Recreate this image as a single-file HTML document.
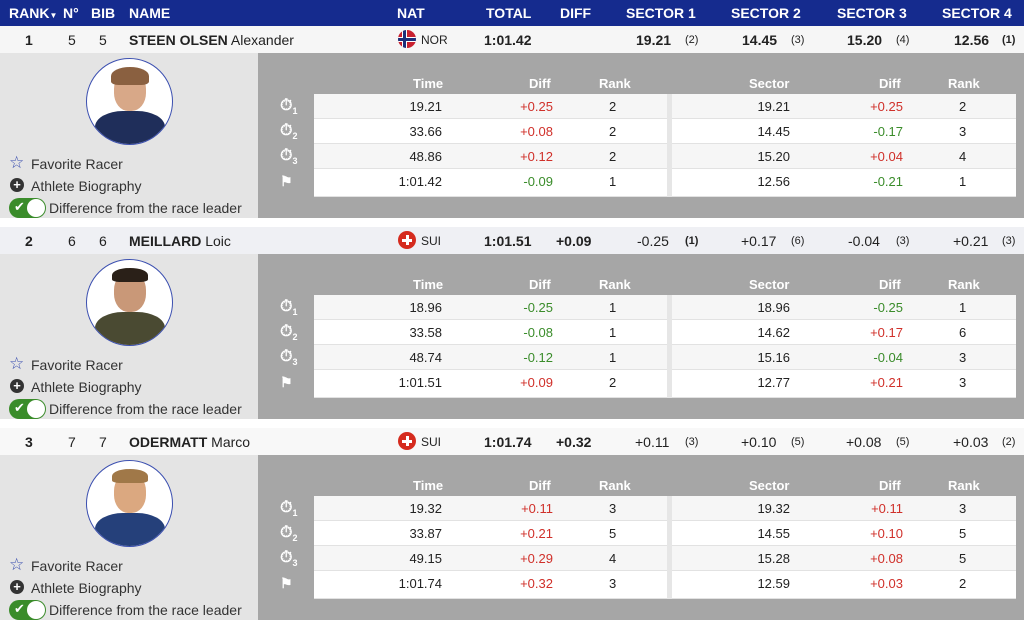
<!DOCTYPE html>
<html><head><meta charset="utf-8"><style>
*{margin:0;padding:0;box-sizing:border-box}
body{width:1024px;height:621px;overflow:hidden;background:#fff;font-family:"Liberation Sans",Arial,sans-serif;color:#222;position:relative}
.a{position:absolute;white-space:nowrap}
.hdr{position:absolute;left:0;top:0;width:1024px;height:26px;background:#152b8e;color:#fff;font-weight:bold;font-size:14px}
.hdr span{position:absolute;top:5px}
.blk{position:absolute;left:0;width:1024px;height:192px}
.row{position:absolute;left:0;top:0;width:1024px;height:27px;font-size:14px}
.row span{position:absolute;top:6px}
.lp{position:absolute;left:0;top:27px;width:258px;height:165px;background:#e4e4e4}
.rp{position:absolute;left:258px;top:27px;width:766px;height:165px;background:#a6a6a6}
.ph{position:absolute;left:86px;top:5px;width:87px;height:87px;border-radius:50%;border:1.5px solid #3b4fb0;background:#fff;overflow:hidden}
.lt{position:absolute;font-size:14px;color:#333}
.th{position:absolute;top:23px;color:#fff;font-weight:bold;font-size:13px}
.tb{position:absolute;left:56px;top:41px;width:702px;height:103px;background:#fff}
.tr{position:absolute;left:0;width:702px;height:25px;border-bottom:1px solid #e2e2e2;font-size:13px}
.tr:nth-child(odd){background:#f6f6f6}
.tr span{position:absolute;top:5px}
.r{color:#d0302a}.g{color:#3a8c2a}
.rk{font-size:11px}
.ic{position:absolute;left:22px;color:#fff;font-weight:bold;font-size:16px}
</style></head><body>
<div class="hdr">
<span style="left:9px">RANK<small style="font-size:8px">▼</small></span><span style="left:63px">N°</span><span style="left:91px">BIB</span><span style="left:129px">NAME</span>
<span style="left:397px">NAT</span><span style="left:486px">TOTAL</span><span style="left:560px">DIFF</span>
<span style="left:626px">SECTOR 1</span><span style="left:731px">SECTOR 2</span><span style="left:837px">SECTOR 3</span><span style="left:942px">SECTOR 4</span>
</div>

<div class="blk" style="top:26px">
<div class="row" style="background:#f6f6f6">
<span style="left:25px;font-weight:bold">1</span><span style="left:68px">5</span><span style="left:99px">5</span>
<span style="left:129px"><b>STEEN OLSEN</b> Alexander</span>
<div class="a" style="left:398px;top:4px;width:18px;height:18px;border-radius:50%;background:#c8202f;overflow:hidden"><div class="a" style="left:4px;top:0;width:5px;height:18px;background:#fff"></div><div class="a" style="left:0;top:6.5px;width:18px;height:5px;background:#fff"></div><div class="a" style="left:5px;top:0;width:3px;height:18px;background:#1d2e7a"></div><div class="a" style="left:0;top:7.5px;width:18px;height:3px;background:#1d2e7a"></div></div>
<span style="left:421px;font-size:12px;top:7px">NOR</span>
<span style="left:484px;font-weight:bold">1:01.42</span>
<span style="left:636px;font-weight:bold">19.21</span><span class="rk" style="left:685px;top:8px">(2)</span>
<span style="left:742px;font-weight:bold">14.45</span><span class="rk" style="left:791px;top:8px">(3)</span>
<span style="left:847px;font-weight:bold">15.20</span><span class="rk" style="left:896px;top:8px">(4)</span>
<span style="left:954px;font-weight:bold">12.56</span><span class="rk" style="left:1002px;top:8px;font-weight:bold">(1)</span>
</div>
<div class="lp">
<div class="ph"><div class="a" style="left:27px;top:12px;width:32px;height:40px;border-radius:45%;background:#d8a888"></div><div class="a" style="left:24px;top:8px;width:38px;height:18px;border-radius:50% 50% 20% 20%;background:#8a6040"></div><div class="a" style="left:8px;top:52px;width:70px;height:40px;border-radius:40% 40% 0 0;background:#1f2e5a"></div></div>
<div class="lt" style="left:9px;top:100px;color:#3b4fb0;font-size:17px">☆</div><div class="lt" style="left:31px;top:103px">Favorite Racer</div>
<div class="a" style="left:10px;top:125px;width:14px;height:14px;border-radius:50%;background:#333;color:#fff;font-size:13px;line-height:14px;text-align:center;font-weight:bold">+</div><div class="lt" style="left:31px;top:125px">Athlete Biography</div>
<div class="a" style="left:9px;top:145px;width:37px;height:20px;border-radius:10px;background:#3a8c2a"><span class="a" style="left:5px;top:1px;color:#fff;font-size:13px">✔</span><div class="a" style="left:18px;top:1px;width:18px;height:18px;border-radius:50%;background:#fff"></div></div>
<div class="lt" style="left:49px;top:147px">Difference from the race leader</div>
</div>
<div class="rp">
<span class="th" style="left:155px">Time</span><span class="th" style="left:271px">Diff</span><span class="th" style="left:341px">Rank</span>
<span class="th" style="left:491px">Sector</span><span class="th" style="left:621px">Diff</span><span class="th" style="left:690px">Rank</span>
<div class="ic" style="top:44px">⏱<sub style="font-size:9px">1</sub></div><div class="ic" style="top:69px">⏱<sub style="font-size:9px">2</sub></div><div class="ic" style="top:94px">⏱<sub style="font-size:9px">3</sub></div><div class="ic" style="top:120px;font-size:14px">⚑</div>
<div class="tb">
<div class="tr" style="top:0"><span style="right:574px">19.21</span><span class="r" style="right:463px">+0.25</span><span style="left:295px">2</span><span style="right:226px">19.21</span><span class="r" style="right:113px">+0.25</span><span style="left:645px">2</span></div>
<div class="tr" style="top:25px"><span style="right:574px">33.66</span><span class="r" style="right:463px">+0.08</span><span style="left:295px">2</span><span style="right:226px">14.45</span><span class="g" style="right:113px">-0.17</span><span style="left:645px">3</span></div>
<div class="tr" style="top:50px"><span style="right:574px">48.86</span><span class="r" style="right:463px">+0.12</span><span style="left:295px">2</span><span style="right:226px">15.20</span><span class="r" style="right:113px">+0.04</span><span style="left:645px">4</span></div>
<div class="tr" style="top:75px;height:28px"><span style="right:574px">1:01.42</span><span class="g" style="right:463px">-0.09</span><span style="left:295px">1</span><span style="right:226px">12.56</span><span class="g" style="right:113px">-0.21</span><span style="left:645px">1</span></div>
<div class="a" style="left:353px;top:0;width:5px;height:103px;background:#e6e6e6"></div>
</div>
</div>
</div>

<div class="blk" style="top:227px">
<div class="row" style="background:#eff0f4">
<span style="left:25px;font-weight:bold">2</span><span style="left:68px">6</span><span style="left:99px">6</span>
<span style="left:129px"><b>MEILLARD</b> Loic</span>
<div class="a" style="left:398px;top:4px;width:18px;height:18px;border-radius:50%;background:#d52b1e"><div class="a" style="left:7.5px;top:4px;width:3px;height:10px;background:#fff"></div><div class="a" style="left:4px;top:7.5px;width:10px;height:3px;background:#fff"></div></div>
<span style="left:421px;font-size:12px;top:7px">SUI</span>
<span style="left:484px;font-weight:bold">1:01.51</span><span style="left:556px;font-weight:bold">+0.09</span>
<span style="left:637px">-0.25</span><span class="rk" style="left:685px;top:8px;font-weight:bold">(1)</span>
<span style="left:741px">+0.17</span><span class="rk" style="left:791px;top:8px">(6)</span>
<span style="left:848px">-0.04</span><span class="rk" style="left:896px;top:8px">(3)</span>
<span style="left:953px">+0.21</span><span class="rk" style="left:1002px;top:8px">(3)</span>
</div>
<div class="lp">
<div class="ph"><div class="a" style="left:27px;top:12px;width:32px;height:40px;border-radius:45%;background:#c99878"></div><div class="a" style="left:25px;top:8px;width:36px;height:14px;border-radius:50% 50% 20% 20%;background:#2a2018"></div><div class="a" style="left:8px;top:52px;width:70px;height:40px;border-radius:40% 40% 0 0;background:#4a4a32"></div></div>
<div class="lt" style="left:9px;top:100px;color:#3b4fb0;font-size:17px">☆</div><div class="lt" style="left:31px;top:103px">Favorite Racer</div>
<div class="a" style="left:10px;top:125px;width:14px;height:14px;border-radius:50%;background:#333;color:#fff;font-size:13px;line-height:14px;text-align:center;font-weight:bold">+</div><div class="lt" style="left:31px;top:125px">Athlete Biography</div>
<div class="a" style="left:9px;top:145px;width:37px;height:20px;border-radius:10px;background:#3a8c2a"><span class="a" style="left:5px;top:1px;color:#fff;font-size:13px">✔</span><div class="a" style="left:18px;top:1px;width:18px;height:18px;border-radius:50%;background:#fff"></div></div>
<div class="lt" style="left:49px;top:147px">Difference from the race leader</div>
</div>
<div class="rp">
<span class="th" style="left:155px">Time</span><span class="th" style="left:271px">Diff</span><span class="th" style="left:341px">Rank</span>
<span class="th" style="left:491px">Sector</span><span class="th" style="left:621px">Diff</span><span class="th" style="left:690px">Rank</span>
<div class="ic" style="top:44px">⏱<sub style="font-size:9px">1</sub></div><div class="ic" style="top:69px">⏱<sub style="font-size:9px">2</sub></div><div class="ic" style="top:94px">⏱<sub style="font-size:9px">3</sub></div><div class="ic" style="top:120px;font-size:14px">⚑</div>
<div class="tb">
<div class="tr" style="top:0"><span style="right:574px">18.96</span><span class="g" style="right:463px">-0.25</span><span style="left:295px">1</span><span style="right:226px">18.96</span><span class="g" style="right:113px">-0.25</span><span style="left:645px">1</span></div>
<div class="tr" style="top:25px"><span style="right:574px">33.58</span><span class="g" style="right:463px">-0.08</span><span style="left:295px">1</span><span style="right:226px">14.62</span><span class="r" style="right:113px">+0.17</span><span style="left:645px">6</span></div>
<div class="tr" style="top:50px"><span style="right:574px">48.74</span><span class="g" style="right:463px">-0.12</span><span style="left:295px">1</span><span style="right:226px">15.16</span><span class="g" style="right:113px">-0.04</span><span style="left:645px">3</span></div>
<div class="tr" style="top:75px;height:28px"><span style="right:574px">1:01.51</span><span class="r" style="right:463px">+0.09</span><span style="left:295px">2</span><span style="right:226px">12.77</span><span class="r" style="right:113px">+0.21</span><span style="left:645px">3</span></div>
<div class="a" style="left:353px;top:0;width:5px;height:103px;background:#e6e6e6"></div>
</div>
</div>
</div>

<div class="blk" style="top:428px">
<div class="row" style="background:#f8f8f8">
<span style="left:25px;font-weight:bold">3</span><span style="left:68px">7</span><span style="left:99px">7</span>
<span style="left:129px"><b>ODERMATT</b> Marco</span>
<div class="a" style="left:398px;top:4px;width:18px;height:18px;border-radius:50%;background:#d52b1e"><div class="a" style="left:7.5px;top:4px;width:3px;height:10px;background:#fff"></div><div class="a" style="left:4px;top:7.5px;width:10px;height:3px;background:#fff"></div></div>
<span style="left:421px;font-size:12px;top:7px">SUI</span>
<span style="left:484px;font-weight:bold">1:01.74</span><span style="left:556px;font-weight:bold">+0.32</span>
<span style="left:635px">+0.11</span><span class="rk" style="left:685px;top:8px">(3)</span>
<span style="left:741px">+0.10</span><span class="rk" style="left:791px;top:8px">(5)</span>
<span style="left:846px">+0.08</span><span class="rk" style="left:896px;top:8px">(5)</span>
<span style="left:953px">+0.03</span><span class="rk" style="left:1002px;top:8px">(2)</span>
</div>
<div class="lp">
<div class="ph"><div class="a" style="left:27px;top:12px;width:32px;height:40px;border-radius:45%;background:#dba880"></div><div class="a" style="left:25px;top:8px;width:36px;height:14px;border-radius:50% 50% 20% 20%;background:#a07848"></div><div class="a" style="left:8px;top:52px;width:70px;height:40px;border-radius:40% 40% 0 0;background:#25407a"></div></div>
<div class="lt" style="left:9px;top:100px;color:#3b4fb0;font-size:17px">☆</div><div class="lt" style="left:31px;top:103px">Favorite Racer</div>
<div class="a" style="left:10px;top:125px;width:14px;height:14px;border-radius:50%;background:#333;color:#fff;font-size:13px;line-height:14px;text-align:center;font-weight:bold">+</div><div class="lt" style="left:31px;top:125px">Athlete Biography</div>
<div class="a" style="left:9px;top:145px;width:37px;height:20px;border-radius:10px;background:#3a8c2a"><span class="a" style="left:5px;top:1px;color:#fff;font-size:13px">✔</span><div class="a" style="left:18px;top:1px;width:18px;height:18px;border-radius:50%;background:#fff"></div></div>
<div class="lt" style="left:49px;top:147px">Difference from the race leader</div>
</div>
<div class="rp">
<span class="th" style="left:155px">Time</span><span class="th" style="left:271px">Diff</span><span class="th" style="left:341px">Rank</span>
<span class="th" style="left:491px">Sector</span><span class="th" style="left:621px">Diff</span><span class="th" style="left:690px">Rank</span>
<div class="ic" style="top:44px">⏱<sub style="font-size:9px">1</sub></div><div class="ic" style="top:69px">⏱<sub style="font-size:9px">2</sub></div><div class="ic" style="top:94px">⏱<sub style="font-size:9px">3</sub></div><div class="ic" style="top:120px;font-size:14px">⚑</div>
<div class="tb">
<div class="tr" style="top:0"><span style="right:574px">19.32</span><span class="r" style="right:463px">+0.11</span><span style="left:295px">3</span><span style="right:226px">19.32</span><span class="r" style="right:113px">+0.11</span><span style="left:645px">3</span></div>
<div class="tr" style="top:25px"><span style="right:574px">33.87</span><span class="r" style="right:463px">+0.21</span><span style="left:295px">5</span><span style="right:226px">14.55</span><span class="r" style="right:113px">+0.10</span><span style="left:645px">5</span></div>
<div class="tr" style="top:50px"><span style="right:574px">49.15</span><span class="r" style="right:463px">+0.29</span><span style="left:295px">4</span><span style="right:226px">15.28</span><span class="r" style="right:113px">+0.08</span><span style="left:645px">5</span></div>
<div class="tr" style="top:75px;height:28px"><span style="right:574px">1:01.74</span><span class="r" style="right:463px">+0.32</span><span style="left:295px">3</span><span style="right:226px">12.59</span><span class="r" style="right:113px">+0.03</span><span style="left:645px">2</span></div>
<div class="a" style="left:353px;top:0;width:5px;height:103px;background:#e6e6e6"></div>
</div>
</div>
</div>
</body></html>
